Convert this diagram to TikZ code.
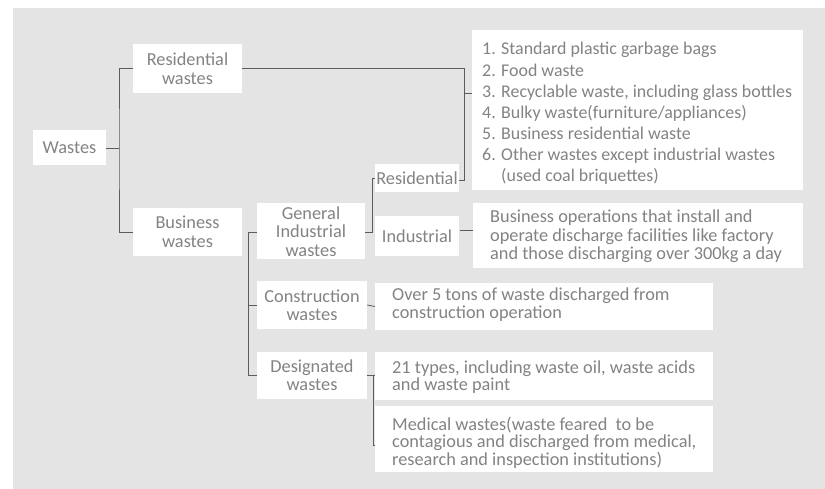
\documentclass[tikz,border=0pt]{standalone}
\usepackage{fontspec}
\setmainfont{Carlito}
\usetikzlibrary{calc}
\definecolor{bg}{HTML}{E4E4E4}
\definecolor{txt}{HTML}{838383}
\definecolor{ln}{HTML}{5C5C5C}
\begin{document}
\begin{tikzpicture}[x=1pt,y=-1pt,
  box/.style={fill=white,draw=none,inner sep=0pt,text=txt,align=center,
    font=\fontsize{18.3}{18.5}\selectfont},
  desc/.style={inner sep=0pt,text=txt,align=left,anchor=base west,
    font=\fontsize{18.3}{#1}\selectfont},
  conn/.style={draw=ln,line width=0.8pt}]
\useasboundingbox (0,0) rectangle (825,489);
\fill[white] (0,0) rectangle (825,489);
\fill[bg] (13,8) rectangle (825,489);

% level 1-2
\node[box,minimum width=73pt,minimum height=35pt] (wastes) at (69.5,148) {Wastes};
\node[box,minimum width=109pt,minimum height=49pt] (reswastes) at (187.5,68.5) {Residential\\wastes};
\node[box,minimum width=109pt,minimum height=48pt] (buswastes) at (187.5,232) {Business\\wastes};

% level 3
\node[box,minimum width=108pt,minimum height=56pt] (genind) at (311,231.5) {General\\Industrial\\wastes};
\node[box,minimum width=110pt,minimum height=48pt] (constr) at (312,305) {Construction\\wastes};
\node[box,minimum width=110pt,minimum height=47pt] (desig) at (312,375) {Designated\\wastes};

% level 4
\node[box,minimum width=84pt,minimum height=28pt] (resid) at (417,178.5) {Residential};
\node[box,minimum width=84pt,minimum height=40pt] (indus) at (417,236) {Industrial};

% description boxes
\node[box,minimum width=331pt,minimum height=160pt] (list) at (637.5,110) {};
\node[box,minimum width=330pt,minimum height=65pt] (busop) at (638,235.5) {};
\node[box,minimum width=338pt,minimum height=47pt] (constrdesc) at (544,306.5) {};
\node[box,minimum width=338pt,minimum height=48pt] (types) at (544,376) {};
\node[box,minimum width=338pt,minimum height=66pt] (medical) at (544,439) {};

% description texts (anchored at the baseline of their last line)
\node[desc=21.1,font=\fontsize{17.9}{21.1}\selectfont] (listtxt) at (482,181.6)
  {1. Standard plastic garbage bags\\
   2. Food waste\\
   3. Recyclable waste, including glass bottles\\
   4. Bulky waste(furniture/appliances)\\
   5. Business residential waste\\
   6. Other wastes except industrial wastes\\
   \phantom{6. }(used coal briquettes)};
\node[desc=18.2] (busoptxt) at (490,259.4)
  {Business operations that install and\\
   operate discharge facilities like factory\\
   and those discharging over 300kg a day};
\node[desc=17.5] (constrtxt) at (392,318.5)
  {Over 5 tons of waste discharged from\\
   construction operation};
\node[desc=17.5] (typestxt) at (392,390.5)
  {21 types, including waste oil, waste acids\\
   and waste paint};
\node[desc=17.5] (medicaltxt) at (392,465)
  {Medical wastes(waste feared\ \ to be\\
   contagious and discharged from medical,\\
   research and inspection institutions)};

% connectors
\coordinate (b1) at (119,148);
\draw[conn] (wastes.east) -- (b1);
\draw[conn] (reswastes.west) -| (b1) |- (buswastes.west);

\coordinate (b2) at (464,180);
\draw[conn] (reswastes.east) -| (b2) -- (b2 -| resid.east);
\coordinate (j1) at (464,93);
\draw[conn] (j1) -- (j1 -| list.west);

\coordinate (b3) at (248,232);
\coordinate (b3e) at (248,375);
\draw[conn] (b3 -| genind.west) -- (b3) -- (b3e) -- (desig.west);
\draw[conn] (constr.west) -- (constr.west -| b3);

\coordinate (b4) at (372,232);
\draw[conn] (b4 -| genind.east) -- (b4) |- (resid.west);

\coordinate (d0) at (460,230);
\draw[conn] (d0) -- (d0 -| busop.west);
\draw[conn] (constr.east) -- (constrdesc.west);

\coordinate (b5) at (373,375);
\draw[conn] (b5 -| desig.east) -- (b5 -| types.west);
\draw[conn] (b5) -- (373,445) -- (medical.west |- 373,445);
\end{tikzpicture}
\end{document}
